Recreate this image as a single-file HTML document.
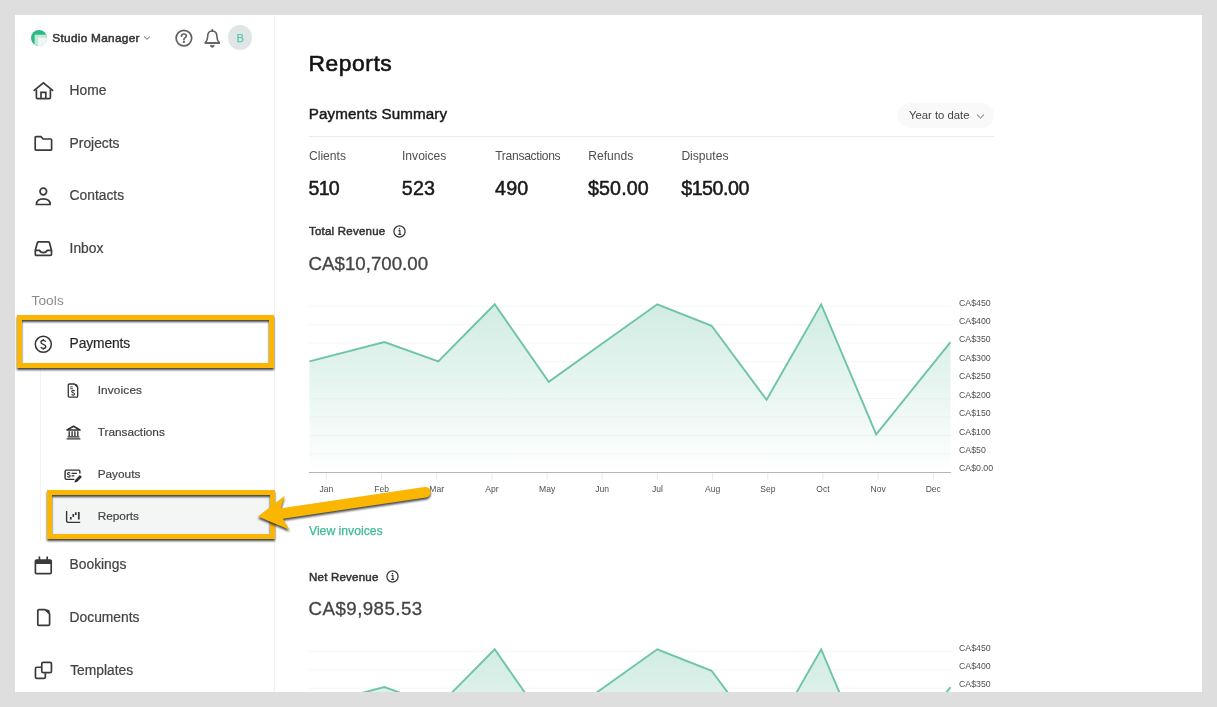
<!DOCTYPE html>
<html lang="en">
<head>
<meta charset="utf-8">
<title>Reports</title>
<style>
*{box-sizing:border-box;margin:0;padding:0}
html,body{width:1217px;height:707px;overflow:hidden;background:#dedede;font-family:"Liberation Sans",sans-serif;color:#3a3a3a}
#app{position:absolute;left:15px;top:15px;width:1187px;height:677px;background:#fff;overflow:hidden}
/* everything inside #stage uses page coordinates */
#stage{position:absolute;left:-15px;top:-15px;width:1217px;height:707px}
.abs{position:absolute}
.t{position:absolute;white-space:nowrap;line-height:1}
.side-div{position:absolute;left:274px;top:15px;width:1px;height:677px;background:#efefef}
.sub-div{position:absolute;left:40.4px;top:368px;width:1px;height:172px;background:#f2f2f2}
.nav{font-size:13.8px;color:#444;left:69.6px;-webkit-text-stroke:0.22px #444}
.sub{font-size:11.8px;color:#444;left:97.7px;-webkit-text-stroke:0.2px #444}
.ico{position:absolute;overflow:visible}
.chart{position:absolute;left:295px}
.chart text.ax{font-size:8.55px;fill:#505050;font-family:"Liberation Sans",sans-serif}
.lbl{font-size:12.1px;color:#4f4f4f}
.val{font-size:19.7px;color:#1a1a1a;-webkit-text-stroke:0.5px #1a1a1a}
.hl{position:absolute;border:5.3px solid #fab600;filter:drop-shadow(0.4px 2.8px 1.2px rgba(20,24,32,0.82))}
</style>
</head>
<body>
<div id="app"><div id="stage">

<!-- SIDEBAR -->
<div class="side-div"></div>
<div class="sub-div"></div>

<!-- logo -->
<svg class="ico" style="left:31px;top:29.6px" width="16" height="16" viewBox="0 0 16 16">
  <defs><clipPath id="lc"><circle cx="8" cy="8" r="8"/></clipPath></defs>
  <circle cx="8" cy="8" r="8" fill="#2db984"/>
  <g clip-path="url(#lc)">
    <rect x="3.6" y="4.7" width="13" height="13" fill="#bfe8d6"/>
    <rect x="7.1" y="7.6" width="10" height="10" fill="#f1f6f5"/>
  </g>
</svg>
<div class="t" style="left:52.3px;top:32.7px;font-size:11.8px;color:#333;letter-spacing:0.3px;-webkit-text-stroke:0.5px #333">Studio Manager</div>
<svg class="ico" style="left:143px;top:35px" width="8" height="6" viewBox="0 0 8 6"><path d="M1 1.5 L4 4.3 L7 1.5" fill="none" stroke="#666" stroke-width="1"/></svg>

<!-- help -->
<svg class="ico" style="left:175px;top:29.2px" width="18" height="18" viewBox="0 0 18 18">
  <circle cx="8.9" cy="9.1" r="7.8" fill="none" stroke="#606060" stroke-width="1.7"/>
  <path d="M6.5 7.2 C6.5 5.7 7.6 5 8.9 5 C10.3 5 11.3 5.8 11.3 7 C11.3 8.7 8.9 8.6 8.9 10.4" fill="none" stroke="#606060" stroke-width="1.7" stroke-linecap="round"/>
  <circle cx="8.9" cy="12.9" r="1.15" fill="#606060"/>
</svg>
<!-- bell -->
<svg class="ico" style="left:203px;top:29.4px" width="19" height="19" viewBox="0 0 19 19">
  <path d="M9.3 2 C6.1 2 4.7 4.4 4.7 7.2 C4.7 10.4 3.8 12.2 2.3 13.9 L16.3 13.9 C14.8 12.2 13.9 10.4 13.9 7.2 C13.9 4.4 12.5 2 9.3 2 Z" fill="none" stroke="#606060" stroke-width="1.6" stroke-linejoin="round"/>
  <path d="M2.2 14 H16.4" stroke="#606060" stroke-width="1.5" stroke-linecap="round"/>
  <path d="M9.3 0.9 L9.3 2" stroke="#606060" stroke-width="1.8" stroke-linecap="round"/>
  <path d="M7.2 16.3 A2.1 2.1 0 0 0 11.4 16.3 Z" fill="#606060" stroke="#606060" stroke-width="0.5" stroke-linejoin="round"/>
</svg>
<!-- avatar -->
<div class="abs" style="left:227.8px;top:25.3px;width:24.6px;height:24.6px;border-radius:50%;background:#dfe6e5"></div>
<div class="t" style="left:228px;top:32.6px;width:24.6px;text-align:center;font-size:11.2px;color:#5cc7ad;-webkit-text-stroke:0.25px #5cc7ad">B</div>

<!-- Home -->
<svg class="ico" style="left:33px;top:81px" width="21" height="20" viewBox="0 0 21 20">
  <path d="M1.2 9.4 L10.4 1.8 L19.6 9.4" fill="none" stroke="#3a3a3a" stroke-width="1.7" stroke-linejoin="miter" stroke-linecap="round"/>
  <path d="M3.4 8.6 L3.4 16.4 Q3.4 17.6 4.6 17.6 L16.2 17.6 Q17.4 17.6 17.4 16.4 L17.4 8.6" fill="none" stroke="#3a3a3a" stroke-width="1.7"/>
  <path d="M8 17.4 L8 11.4 L12.8 11.4 L12.8 17.4" fill="none" stroke="#3a3a3a" stroke-width="1.7"/>
</svg>
<div class="t nav" style="top:83.9px">Home</div>

<!-- Projects -->
<svg class="ico" style="left:34px;top:135px" width="19" height="17" viewBox="0 0 19 17">
  <path d="M1.2 2.6 Q1.2 1.6 2.2 1.6 L7 1.6 L9.2 4 L16.6 4 Q17.6 4 17.6 5 L17.6 14.2 Q17.6 15.2 16.6 15.2 L2.2 15.2 Q1.2 15.2 1.2 14.2 Z" fill="none" stroke="#3a3a3a" stroke-width="1.7" stroke-linejoin="round"/>
</svg>
<div class="t nav" style="top:136.5px">Projects</div>

<!-- Contacts -->
<svg class="ico" style="left:34px;top:186px" width="19" height="21" viewBox="0 0 19 21">
  <circle cx="9.3" cy="5.5" r="3.3" fill="none" stroke="#3a3a3a" stroke-width="1.7"/>
  <path d="M2.4 18.5 L16.2 18.5 C16.2 14.6 13.4 12.8 9.3 12.8 C5.2 12.8 2.4 14.6 2.4 18.5 Z" fill="none" stroke="#3a3a3a" stroke-width="1.7" stroke-linejoin="round"/>
</svg>
<div class="t nav" style="top:189.2px">Contacts</div>

<!-- Inbox -->
<svg class="ico" style="left:34px;top:240px" width="19" height="17" viewBox="0 0 19 17">
  <path d="M1.3 10.2 L3.4 2.6 Q3.7 1.8 4.6 1.8 L14.2 1.8 Q15.1 1.8 15.4 2.6 L17.5 10.2 L17.5 14.2 Q17.5 15.4 16.3 15.4 L2.5 15.4 Q1.3 15.4 1.3 14.2 Z" fill="none" stroke="#3a3a3a" stroke-width="1.7" stroke-linejoin="round"/>
  <path d="M1.3 10.4 L5.6 10.4 Q6.4 12.6 9.4 12.6 Q12.4 12.6 13.2 10.4 L17.5 10.4" fill="none" stroke="#3a3a3a" stroke-width="1.7" stroke-linejoin="round"/>
</svg>
<div class="t nav" style="top:241.7px">Inbox</div>

<div class="t" style="left:31.5px;top:294.4px;font-size:13.6px;letter-spacing:0.12px;color:#8a8a8a">Tools</div>

<!-- Payments -->
<svg class="ico" style="left:34px;top:334.5px" width="19" height="19" viewBox="0 0 19 19">
  <circle cx="9.3" cy="9.3" r="8" fill="none" stroke="#333" stroke-width="1.5"/>
  <path transform="translate(9.3 9.4) scale(1.0)" d="M2.3 -2.5 C2.0 -3.5 1.1 -4 0 -4 C-1.4 -4 -2.4 -3.3 -2.4 -2.1 C-2.4 -0.9 -1.3 -0.4 0 0 C1.3 0.4 2.5 0.9 2.5 2.1 C2.5 3.3 1.4 4 0 4 C-1.2 4 -2.2 3.5 -2.5 2.5 M0 -5.3 V-3.9 M0 3.9 V5.3" fill="none" stroke="#333" stroke-width="1.35"/>
</svg>
<div class="t nav" style="top:336.9px;color:#222;letter-spacing:-0.12px">Payments</div>

<!-- sub items -->
<!-- Invoices icon -->
<svg class="ico" style="left:67.2px;top:383px" width="12" height="15" viewBox="0 0 12 15">
  <path d="M1.3 2.2 Q1.3 1 2.5 1 L7.4 1 L10.7 4.2 L10.7 13 Q10.7 14.2 9.5 14.2 L2.5 14.2 Q1.3 14.2 1.3 13 Z" fill="none" stroke="#333" stroke-width="1.3" stroke-linejoin="round"/>
  <path d="M7.2 1 L10.7 4.4 L10.7 3 Q10.7 1 8.6 1 Z" fill="#333"/>
  <path d="M3.2 3.9 H5.8 M3.2 5.7 H5.8" stroke="#333" stroke-width="0.9"/>
  <path transform="translate(6.1 9.7) scale(0.58)" d="M2.3 -2.5 C2.0 -3.5 1.1 -4 0 -4 C-1.4 -4 -2.4 -3.3 -2.4 -2.1 C-2.4 -0.9 -1.3 -0.4 0 0 C1.3 0.4 2.5 0.9 2.5 2.1 C2.5 3.3 1.4 4 0 4 C-1.2 4 -2.2 3.5 -2.5 2.5 M0 -5.3 V-3.9 M0 3.9 V5.3" fill="none" stroke="#333" stroke-width="1.9"/>
</svg>
<div class="t sub" style="top:385.4px;letter-spacing:0.15px">Invoices</div>

<!-- Transactions icon -->
<svg class="ico" style="left:66px;top:424.5px" width="15" height="15" viewBox="0 0 15 15">
  <path d="M1 5 L7.5 1.3 L14 5 Z" fill="none" stroke="#333" stroke-width="1.6" stroke-linejoin="round"/>
  <path d="M3.2 6.2 V11.2 M6.1 6.2 V11.2 M8.9 6.2 V11.2 M11.8 6.2 V11.2" stroke="#333" stroke-width="1.4"/>
  <path d="M1.6 11.8 H13.4 M0.6 13.9 H14.4" stroke="#333" stroke-width="1.25"/>
</svg>
<div class="t sub" style="top:427.4px">Transactions</div>

<!-- Payouts icon -->
<svg class="ico" style="left:64px;top:469px" width="19" height="14" viewBox="0 0 19 14">
  <path d="M10.4 10.4 L2.4 10.4 Q1.1 10.4 1.1 9.1 L1.1 2.4 Q1.1 1.1 2.4 1.1 L14.6 1.1 Q15.9 1.1 15.9 2.4 L15.9 4.6" fill="none" stroke="#333" stroke-width="1.4" stroke-linejoin="round"/>
  <path transform="translate(4.8 5.8) scale(0.55)" d="M2.3 -2.5 C2.0 -3.5 1.1 -4 0 -4 C-1.4 -4 -2.4 -3.3 -2.4 -2.1 C-2.4 -0.9 -1.3 -0.4 0 0 C1.3 0.4 2.5 0.9 2.5 2.1 C2.5 3.3 1.4 4 0 4 C-1.2 4 -2.2 3.5 -2.5 2.5 M0 -5.3 V-3.9 M0 3.9 V5.3" fill="none" stroke="#333" stroke-width="2"/>
  <path d="M7.6 4.4 H12.8 M7.6 6.9 H10.4" stroke="#333" stroke-width="1.2"/>
  <path d="M10.4 13.6 L11.1 10.9 L15.9 6.1 L17.9 8.1 L13.1 12.9 Z" fill="#333"/>
</svg>
<div class="t sub" style="top:469.4px">Payouts</div>

<!-- Reports (selected) -->
<div class="abs" style="left:50px;top:493px;width:222px;height:44px;background:#f4f6f6"></div>
<svg class="ico" style="left:65px;top:510px" width="17" height="14" viewBox="65 510 17 14">
  <path d="M66.6 511 L66.6 520.8 Q66.6 522.3 68.1 522.3 L80.2 522.3" fill="none" stroke="#333" stroke-width="1.35"/>
  <path d="M70.8 516.9 V519.4 M73.3 514.1 V517.1 M75.8 512.3 V515 M78.8 512.1 V519.4" stroke="#333" stroke-width="1.7"/>
</svg>
<div class="t sub" style="top:511.1px">Reports</div>

<!-- Bookings -->
<svg class="ico" style="left:33.5px;top:556px" width="19" height="20" viewBox="0 0 19 20">
  <path d="M2.4 4 L16.2 4 Q17.2 4 17.2 5 L17.2 16.6 Q17.2 17.6 16.2 17.6 L2.4 17.6 Q1.4 17.6 1.4 16.6 L1.4 5 Q1.4 4 2.4 4 Z" fill="none" stroke="#3a3a3a" stroke-width="1.7"/>
  <path d="M1.4 4 H17.2 V8 H1.4 Z" fill="#3a3a3a"/>
  <path d="M5.4 1.2 V4 M13.2 1.2 V4" stroke="#3a3a3a" stroke-width="1.7" stroke-linecap="round"/>
</svg>
<div class="t nav" style="top:558.4px">Bookings</div>

<!-- Documents -->
<svg class="ico" style="left:35.7px;top:608.1px" width="16" height="19" viewBox="0 0 16 19">
  <path d="M1.8 2.8 Q1.8 1.6 3 1.6 L9.2 1.6 L13.6 5.8 L13.6 16.2 Q13.6 17.4 12.4 17.4 L3 17.4 Q1.8 17.4 1.8 16.2 Z" fill="none" stroke="#3a3a3a" stroke-width="1.7" stroke-linejoin="round"/>
  <path d="M9 1.4 L13.8 6 L13.8 4 Q13.8 1.4 11.2 1.4 Z" fill="#3a3a3a"/>
</svg>
<div class="t nav" style="top:611px">Documents</div>

<!-- Templates -->
<svg class="ico" style="left:33px;top:660px" width="21" height="21" viewBox="33 660 21 21">
  <rect x="41.75" y="662.35" width="9.7" height="10.3" rx="1.5" fill="none" stroke="#3a3a3a" stroke-width="1.7"/>
  <path d="M41.2 667.25 L36.9 667.25 Q35.45 667.25 35.45 668.7 L35.45 676.9 Q35.45 678.35 36.9 678.35 L43.9 678.35 Q45.35 678.35 45.35 676.9 L45.35 673.2" fill="none" stroke="#3a3a3a" stroke-width="1.7"/>
</svg>
<div class="t nav" style="top:663.9px;left:70.2px">Templates</div>

<!-- MAIN -->
<div class="t" style="left:308.6px;top:52px;font-size:22.8px;letter-spacing:0.55px;color:#141414;-webkit-text-stroke:0.6px #141414">Reports</div>
<div class="t" style="left:308.8px;top:105.5px;font-size:15.2px;letter-spacing:0.1px;color:#1a1a1a;-webkit-text-stroke:0.45px #1a1a1a">Payments Summary</div>
<div class="abs" style="left:309px;top:136px;width:685.4px;height:1px;background:#ececec"></div>

<!-- Year to date -->
<div class="abs" style="left:898.3px;top:102.5px;width:96px;height:25px;border-radius:12.5px;background:#f9f9f9"></div>
<div class="t" style="left:909px;top:109.5px;font-size:11.3px;color:#444">Year to date</div>
<svg class="ico" style="left:975.5px;top:112.5px" width="9" height="7" viewBox="0 0 9 7"><path d="M1 1.6 L4.5 5 L8 1.6" fill="none" stroke="#666" stroke-width="1"/></svg>

<div class="t lbl" style="left:309px;top:149.6px">Clients</div>
<div class="t lbl" style="left:402px;top:149.6px">Invoices</div>
<div class="t lbl" style="left:495.2px;top:149.6px;letter-spacing:-0.3px">Transactions</div>
<div class="t lbl" style="left:588.2px;top:149.6px">Refunds</div>
<div class="t lbl" style="left:681.4px;top:149.6px">Disputes</div>

<div class="t val" style="left:308.6px;top:178.9px;letter-spacing:-0.9px">510</div>
<div class="t val" style="left:401.8px;top:178.9px;letter-spacing:0.2px">523</div>
<div class="t val" style="left:495px;top:178.9px;letter-spacing:0.2px">490</div>
<div class="t val" style="left:588px;top:178.9px;letter-spacing:0.1px">$50.00</div>
<div class="t val" style="left:681.2px;top:178.9px;letter-spacing:-0.5px">$150.00</div>

<div class="t" style="left:309px;top:226.4px;font-size:11.5px;letter-spacing:0.22px;color:#333;-webkit-text-stroke:0.5px #333">Total Revenue</div>
<svg class="ico" style="left:392.5px;top:225px" width="13" height="13" viewBox="0 0 13 13">
  <circle cx="6.5" cy="6.5" r="5.6" fill="none" stroke="#333" stroke-width="1.25"/>
  <path d="M5.4 5.6 H6.9 V9.2 M5.2 9.4 H8.2" fill="none" stroke="#333" stroke-width="1.1"/>
  <circle cx="6.5" cy="3.8" r="0.8" fill="#333"/>
</svg>
<div class="t" style="left:308.6px;top:254.6px;font-size:18.7px;color:#444;-webkit-text-stroke:0.3px #444">CA$10,700.00</div>

<svg class="chart" style="top:280px" width="720" height="230" viewBox="295 280 720 230">
<defs><linearGradient id="g1" x1="0" y1="0" x2="0" y2="1"><stop offset="0" stop-color="#6dc4a7" stop-opacity="0.32"/><stop offset="1" stop-color="#6dc4a7" stop-opacity="0"/></linearGradient></defs>
<polygon points="309.5,472.5 309.5,361.4 384.4,342.1 438.3,361.4 494.7,304.3 548.7,381.8 602.3,343.4 657.3,304.3 711.6,325.8 766.6,399.8 821.2,304.3 876.2,434.4 950.5,342.1 950.5,472.5" fill="url(#g1)"/>
<line x1="309" x2="951" y1="306.3" y2="306.3" stroke="#eceeed" stroke-opacity="0.5" stroke-width="1"/>
<line x1="309" x2="951" y1="324.8" y2="324.8" stroke="#eceeed" stroke-opacity="0.5" stroke-width="1"/>
<line x1="309" x2="951" y1="343.2" y2="343.2" stroke="#eceeed" stroke-opacity="0.5" stroke-width="1"/>
<line x1="309" x2="951" y1="361.7" y2="361.7" stroke="#eceeed" stroke-opacity="0.5" stroke-width="1"/>
<line x1="309" x2="951" y1="380.2" y2="380.2" stroke="#eceeed" stroke-opacity="0.5" stroke-width="1"/>
<line x1="309" x2="951" y1="398.6" y2="398.6" stroke="#eceeed" stroke-opacity="0.5" stroke-width="1"/>
<line x1="309" x2="951" y1="417.1" y2="417.1" stroke="#eceeed" stroke-opacity="0.5" stroke-width="1"/>
<line x1="309" x2="951" y1="435.6" y2="435.6" stroke="#eceeed" stroke-opacity="0.5" stroke-width="1"/>
<line x1="309" x2="951" y1="454.1" y2="454.1" stroke="#eceeed" stroke-opacity="0.5" stroke-width="1"/>
<polyline points="309.5,361.4 384.4,342.1 438.3,361.4 494.7,304.3 548.7,381.8 602.3,343.4 657.3,304.3 711.6,325.8 766.6,399.8 821.2,304.3 876.2,434.4 950.5,342.1" fill="none" stroke="#6ec4a8" stroke-width="1.9" stroke-linejoin="miter"/>
<line x1="309" x2="951" y1="472.5" y2="472.5" stroke="#b5b5b5" stroke-width="1"/>
<line x1="326.4" x2="326.4" y1="473" y2="479.8" stroke="#e8e8e8" stroke-width="1"/>
<text x="326.4" y="491.7" text-anchor="middle" class="ax">Jan</text>
<line x1="381.6" x2="381.6" y1="473" y2="479.8" stroke="#e8e8e8" stroke-width="1"/>
<text x="381.6" y="491.7" text-anchor="middle" class="ax">Feb</text>
<line x1="436.7" x2="436.7" y1="473" y2="479.8" stroke="#e8e8e8" stroke-width="1"/>
<text x="436.7" y="491.7" text-anchor="middle" class="ax">Mar</text>
<line x1="491.9" x2="491.9" y1="473" y2="479.8" stroke="#e8e8e8" stroke-width="1"/>
<text x="491.9" y="491.7" text-anchor="middle" class="ax">Apr</text>
<line x1="547.1" x2="547.1" y1="473" y2="479.8" stroke="#e8e8e8" stroke-width="1"/>
<text x="547.1" y="491.7" text-anchor="middle" class="ax">May</text>
<line x1="602.2" x2="602.2" y1="473" y2="479.8" stroke="#e8e8e8" stroke-width="1"/>
<text x="602.2" y="491.7" text-anchor="middle" class="ax">Jun</text>
<line x1="657.4" x2="657.4" y1="473" y2="479.8" stroke="#e8e8e8" stroke-width="1"/>
<text x="657.4" y="491.7" text-anchor="middle" class="ax">Jul</text>
<line x1="712.6" x2="712.6" y1="473" y2="479.8" stroke="#e8e8e8" stroke-width="1"/>
<text x="712.6" y="491.7" text-anchor="middle" class="ax">Aug</text>
<line x1="767.8" x2="767.8" y1="473" y2="479.8" stroke="#e8e8e8" stroke-width="1"/>
<text x="767.8" y="491.7" text-anchor="middle" class="ax">Sep</text>
<line x1="822.9" x2="822.9" y1="473" y2="479.8" stroke="#e8e8e8" stroke-width="1"/>
<text x="822.9" y="491.7" text-anchor="middle" class="ax">Oct</text>
<line x1="878.1" x2="878.1" y1="473" y2="479.8" stroke="#e8e8e8" stroke-width="1"/>
<text x="878.1" y="491.7" text-anchor="middle" class="ax">Nov</text>
<line x1="933.3" x2="933.3" y1="473" y2="479.8" stroke="#e8e8e8" stroke-width="1"/>
<text x="933.3" y="491.7" text-anchor="middle" class="ax">Dec</text>
<text x="959" y="305.6" class="ax" style="font-size:8.78px">CA$450</text>
<text x="959" y="324.0" class="ax" style="font-size:8.78px">CA$400</text>
<text x="959" y="342.4" class="ax" style="font-size:8.78px">CA$350</text>
<text x="959" y="360.9" class="ax" style="font-size:8.78px">CA$300</text>
<text x="959" y="379.3" class="ax" style="font-size:8.78px">CA$250</text>
<text x="959" y="397.7" class="ax" style="font-size:8.78px">CA$200</text>
<text x="959" y="416.1" class="ax" style="font-size:8.78px">CA$150</text>
<text x="959" y="434.5" class="ax" style="font-size:8.78px">CA$100</text>
<text x="959" y="453.0" class="ax" style="font-size:8.78px">CA$50</text>
<text x="959" y="471.4" class="ax" style="font-size:8.78px">CA$0.00</text>
</svg>

<div class="t" style="left:309px;top:525.1px;font-size:12.2px;color:#3dba9b;-webkit-text-stroke:0.25px #3dba9b">View invoices</div>

<div class="t" style="left:309px;top:571.8px;font-size:11.5px;letter-spacing:0.22px;color:#333;-webkit-text-stroke:0.5px #333">Net Revenue</div>
<svg class="ico" style="left:385.5px;top:570px" width="13" height="13" viewBox="0 0 13 13">
  <circle cx="6.5" cy="6.5" r="5.6" fill="none" stroke="#333" stroke-width="1.25"/>
  <path d="M5.4 5.6 H6.9 V9.2 M5.2 9.4 H8.2" fill="none" stroke="#333" stroke-width="1.1"/>
  <circle cx="6.5" cy="3.8" r="0.8" fill="#333"/>
</svg>
<div class="t" style="left:308.6px;top:599.9px;font-size:18.7px;letter-spacing:0.45px;color:#444;-webkit-text-stroke:0.3px #444">CA$9,985.53</div>

<svg class="chart" style="top:625px" width="720" height="230" viewBox="295 280 720 230">
<defs><linearGradient id="g2" x1="0" y1="0" x2="0" y2="1"><stop offset="0" stop-color="#6dc4a7" stop-opacity="0.32"/><stop offset="1" stop-color="#6dc4a7" stop-opacity="0"/></linearGradient></defs>
<polygon points="309.5,472.5 309.5,361.4 384.4,342.1 438.3,361.4 494.7,304.3 548.7,381.8 602.3,343.4 657.3,304.3 711.6,325.8 766.6,399.8 821.2,304.3 876.2,434.4 950.5,342.1 950.5,472.5" fill="url(#g2)"/>
<line x1="309" x2="951" y1="306.3" y2="306.3" stroke="#eceeed" stroke-opacity="0.5" stroke-width="1"/>
<line x1="309" x2="951" y1="324.8" y2="324.8" stroke="#eceeed" stroke-opacity="0.5" stroke-width="1"/>
<line x1="309" x2="951" y1="343.2" y2="343.2" stroke="#eceeed" stroke-opacity="0.5" stroke-width="1"/>
<line x1="309" x2="951" y1="361.7" y2="361.7" stroke="#eceeed" stroke-opacity="0.5" stroke-width="1"/>
<line x1="309" x2="951" y1="380.2" y2="380.2" stroke="#eceeed" stroke-opacity="0.5" stroke-width="1"/>
<line x1="309" x2="951" y1="398.6" y2="398.6" stroke="#eceeed" stroke-opacity="0.5" stroke-width="1"/>
<line x1="309" x2="951" y1="417.1" y2="417.1" stroke="#eceeed" stroke-opacity="0.5" stroke-width="1"/>
<line x1="309" x2="951" y1="435.6" y2="435.6" stroke="#eceeed" stroke-opacity="0.5" stroke-width="1"/>
<line x1="309" x2="951" y1="454.1" y2="454.1" stroke="#eceeed" stroke-opacity="0.5" stroke-width="1"/>
<polyline points="309.5,361.4 384.4,342.1 438.3,361.4 494.7,304.3 548.7,381.8 602.3,343.4 657.3,304.3 711.6,325.8 766.6,399.8 821.2,304.3 876.2,434.4 950.5,342.1" fill="none" stroke="#6ec4a8" stroke-width="1.9" stroke-linejoin="miter"/>
<line x1="309" x2="951" y1="472.5" y2="472.5" stroke="#b5b5b5" stroke-width="1"/>
<line x1="326.4" x2="326.4" y1="473" y2="479.8" stroke="#e8e8e8" stroke-width="1"/>
<text x="326.4" y="491.7" text-anchor="middle" class="ax">Jan</text>
<line x1="381.6" x2="381.6" y1="473" y2="479.8" stroke="#e8e8e8" stroke-width="1"/>
<text x="381.6" y="491.7" text-anchor="middle" class="ax">Feb</text>
<line x1="436.7" x2="436.7" y1="473" y2="479.8" stroke="#e8e8e8" stroke-width="1"/>
<text x="436.7" y="491.7" text-anchor="middle" class="ax">Mar</text>
<line x1="491.9" x2="491.9" y1="473" y2="479.8" stroke="#e8e8e8" stroke-width="1"/>
<text x="491.9" y="491.7" text-anchor="middle" class="ax">Apr</text>
<line x1="547.1" x2="547.1" y1="473" y2="479.8" stroke="#e8e8e8" stroke-width="1"/>
<text x="547.1" y="491.7" text-anchor="middle" class="ax">May</text>
<line x1="602.2" x2="602.2" y1="473" y2="479.8" stroke="#e8e8e8" stroke-width="1"/>
<text x="602.2" y="491.7" text-anchor="middle" class="ax">Jun</text>
<line x1="657.4" x2="657.4" y1="473" y2="479.8" stroke="#e8e8e8" stroke-width="1"/>
<text x="657.4" y="491.7" text-anchor="middle" class="ax">Jul</text>
<line x1="712.6" x2="712.6" y1="473" y2="479.8" stroke="#e8e8e8" stroke-width="1"/>
<text x="712.6" y="491.7" text-anchor="middle" class="ax">Aug</text>
<line x1="767.8" x2="767.8" y1="473" y2="479.8" stroke="#e8e8e8" stroke-width="1"/>
<text x="767.8" y="491.7" text-anchor="middle" class="ax">Sep</text>
<line x1="822.9" x2="822.9" y1="473" y2="479.8" stroke="#e8e8e8" stroke-width="1"/>
<text x="822.9" y="491.7" text-anchor="middle" class="ax">Oct</text>
<line x1="878.1" x2="878.1" y1="473" y2="479.8" stroke="#e8e8e8" stroke-width="1"/>
<text x="878.1" y="491.7" text-anchor="middle" class="ax">Nov</text>
<line x1="933.3" x2="933.3" y1="473" y2="479.8" stroke="#e8e8e8" stroke-width="1"/>
<text x="933.3" y="491.7" text-anchor="middle" class="ax">Dec</text>
<text x="959" y="305.6" class="ax" style="font-size:8.78px">CA$450</text>
<text x="959" y="324.0" class="ax" style="font-size:8.78px">CA$400</text>
<text x="959" y="342.4" class="ax" style="font-size:8.78px">CA$350</text>
<text x="959" y="360.9" class="ax" style="font-size:8.78px">CA$300</text>
<text x="959" y="379.3" class="ax" style="font-size:8.78px">CA$250</text>
<text x="959" y="397.7" class="ax" style="font-size:8.78px">CA$200</text>
<text x="959" y="416.1" class="ax" style="font-size:8.78px">CA$150</text>
<text x="959" y="434.5" class="ax" style="font-size:8.78px">CA$100</text>
<text x="959" y="453.0" class="ax" style="font-size:8.78px">CA$50</text>
<text x="959" y="471.4" class="ax" style="font-size:8.78px">CA$0.00</text>
</svg>

<!-- ANNOTATIONS -->
<div class="hl" style="left:16.8px;top:315.2px;width:257.4px;height:52.8px"></div>
<div class="hl" style="left:47.2px;top:490.2px;width:227.8px;height:49.2px"></div>
<svg class="ico" style="left:240px;top:470px;filter:drop-shadow(0.5px 2.9px 1.2px rgba(20,24,32,0.8))" width="220" height="90" viewBox="240 470 220 90">
  <path d="M425.5 492.2 L282 513.4" stroke="#fab600" stroke-width="10.6" stroke-linecap="round" fill="none"/>
  <path d="M257.9 516.6 L284.8 495.8 L280.8 508 L283 519 L289.5 529.7 Z" fill="#fab600"/>
</svg>

</div></div>
</body>
</html>
